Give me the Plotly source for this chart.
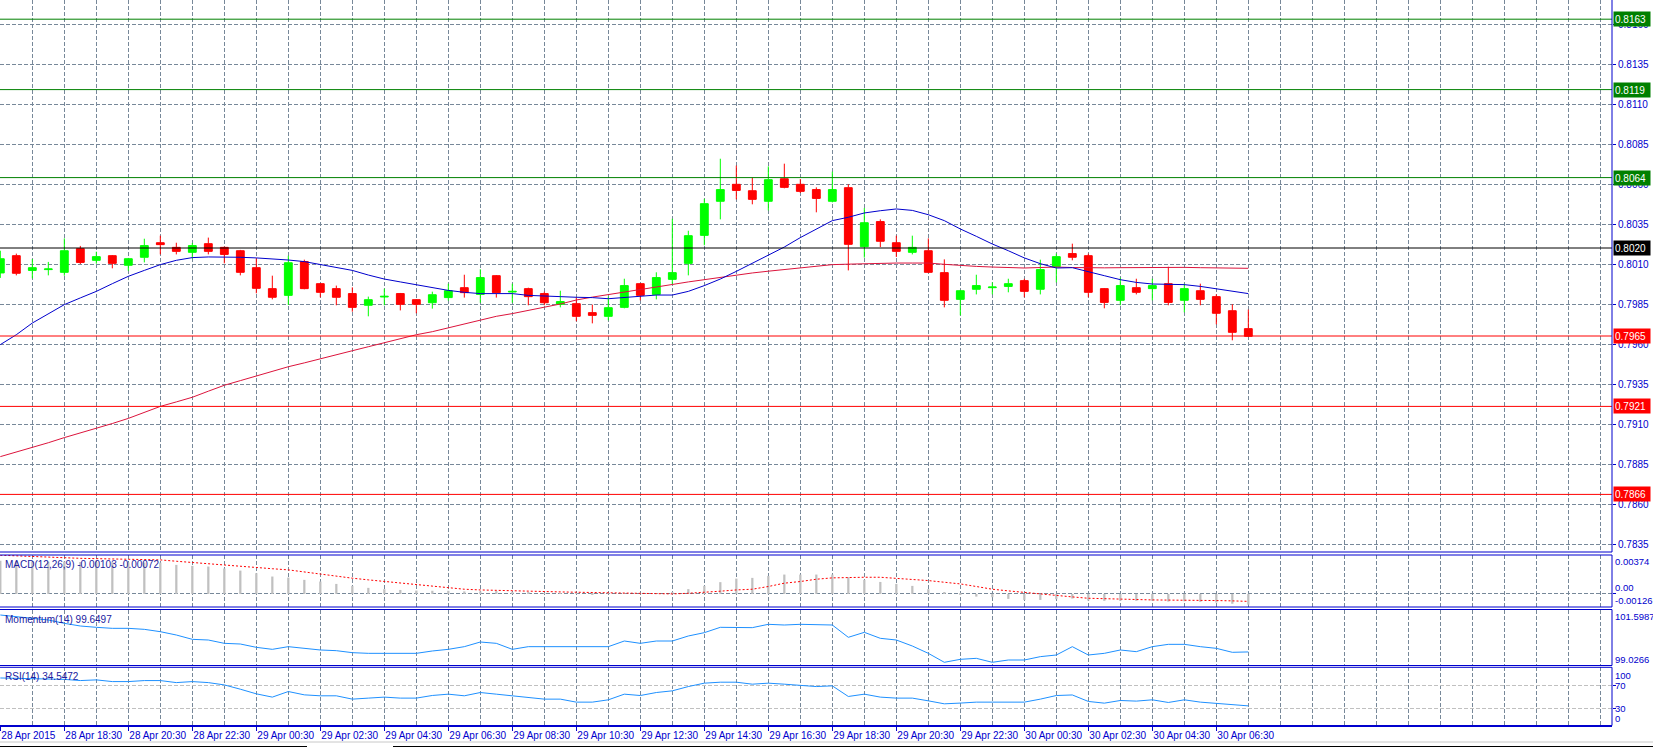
import plotly.graph_objects as go

# ---------------- data ----------------
opens = [0.80044, 0.80152, 0.80060, 0.80065, 0.80048, 0.80196, 0.80123, 0.80152, 0.80092, 0.80142,
         0.80233, 0.80204, 0.80173, 0.80227, 0.80204, 0.80183, 0.80077, 0.79946, 0.79904, 0.80115,
         0.79977, 0.79946, 0.79915, 0.79842, 0.79894, 0.79915, 0.79877, 0.79858, 0.79890, 0.79952,
         0.79910, 0.80027, 0.79925, 0.79946, 0.79915, 0.79848, 0.79852, 0.79796, 0.79773, 0.79829,
         0.79977, 0.79910, 0.80004, 0.80104, 0.80279, 0.80492, 0.80598, 0.80558, 0.80492, 0.80633,
         0.80598, 0.80565, 0.80492, 0.80577, 0.80208, 0.80365, 0.80233, 0.80173, 0.80183, 0.80046,
         0.79879, 0.79942, 0.79952, 0.79960, 0.79996, 0.79942, 0.80083, 0.80165, 0.80152, 0.79946,
         0.79873, 0.79952, 0.79946, 0.79977, 0.79873, 0.79933, 0.79896, 0.79808, 0.79696]
highs = [0.80183, 0.80165, 0.80131, 0.80113, 0.80260, 0.80213, 0.80177, 0.80156, 0.80138, 0.80258,
         0.80277, 0.80233, 0.80231, 0.80265, 0.80208, 0.80188, 0.80135, 0.80027, 0.80152, 0.80127,
         0.79981, 0.79965, 0.79954, 0.79896, 0.79946, 0.79919, 0.79881, 0.79927, 0.79977, 0.80033,
         0.80067, 0.80031, 0.79977, 0.79952, 0.79927, 0.79933, 0.79890, 0.79846, 0.79896, 0.80008,
         0.79981, 0.80048, 0.80383, 0.80308, 0.80508, 0.80758, 0.80715, 0.80640, 0.80710, 0.80727,
         0.80631, 0.80579, 0.80677, 0.80598, 0.80450, 0.80379, 0.80277, 0.80277, 0.80260, 0.80129,
         0.79938, 0.80033, 0.79985, 0.80008, 0.80008, 0.80127, 0.80165, 0.80227, 0.80165, 0.79950,
         0.80015, 0.80008, 0.80008, 0.80083, 0.79977, 0.79977, 0.79910, 0.79848, 0.79815]
lows = [0.80013, 0.80029, 0.80010, 0.80029, 0.80027, 0.80100, 0.80102, 0.80073, 0.80058, 0.80110,
        0.80160, 0.80160, 0.80135, 0.80160, 0.80104, 0.80029, 0.79917, 0.79879, 0.79844, 0.79942,
        0.79892, 0.79842, 0.79802, 0.79773, 0.79842, 0.79810, 0.79792, 0.79821, 0.79871, 0.79890,
        0.79858, 0.79890, 0.79858, 0.79842, 0.79842, 0.79829, 0.79742, 0.79729, 0.79748, 0.79823,
        0.79873, 0.79879, 0.79973, 0.80029, 0.80217, 0.80379, 0.80504, 0.80473, 0.80435, 0.80573,
        0.80544, 0.80423, 0.80485, 0.80060, 0.80140, 0.80206, 0.80144, 0.80160, 0.80044, 0.79829,
        0.79779, 0.79910, 0.79910, 0.79923, 0.79892, 0.79910, 0.79985, 0.80123, 0.79892, 0.79823,
        0.79842, 0.79910, 0.79873, 0.79842, 0.79798, 0.79842, 0.79723, 0.79623, 0.79644]
closes = [0.80133, 0.80042, 0.80077, 0.80069, 0.80183, 0.80110, 0.80146, 0.80104, 0.80133, 0.80215,
          0.80221, 0.80179, 0.80215, 0.80179, 0.80160, 0.80048, 0.79948, 0.79892, 0.80108, 0.79946,
          0.79923, 0.79892, 0.79829, 0.79877, 0.79898, 0.79848, 0.79848, 0.79908, 0.79933, 0.79921,
          0.80015, 0.79921, 0.79929, 0.79896, 0.79858, 0.79865, 0.79773, 0.79779, 0.79827, 0.79965,
          0.79904, 0.80015, 0.80046, 0.80277, 0.80477, 0.80565, 0.80560, 0.80504, 0.80627, 0.80579,
          0.80554, 0.80510, 0.80565, 0.80223, 0.80358, 0.80242, 0.80179, 0.80204, 0.80048, 0.79873,
          0.79933, 0.79965, 0.79956, 0.79977, 0.79929, 0.80065, 0.80146, 0.80142, 0.79923, 0.79860,
          0.79965, 0.79923, 0.79965, 0.79860, 0.79946, 0.79879, 0.79792, 0.79673, 0.79648]

ma_fast = [0.79596, 0.79658, 0.79731, 0.79790, 0.79846, 0.79888, 0.79929, 0.79977, 0.80023, 0.80060,
           0.80096, 0.80123, 0.80140, 0.80144, 0.80144, 0.80142, 0.80138, 0.80133, 0.80125, 0.80115,
           0.80096, 0.80081, 0.80060, 0.80031, 0.80006, 0.79988, 0.79971, 0.79954, 0.79935, 0.79923,
           0.79915, 0.79915, 0.79915, 0.79904, 0.79898, 0.79896, 0.79892, 0.79890, 0.79883, 0.79890,
           0.79898, 0.79906, 0.79906, 0.79929, 0.79965, 0.80006, 0.80054, 0.80106, 0.80156, 0.80206,
           0.80265, 0.80319, 0.80371, 0.80392, 0.80419, 0.80433, 0.80444, 0.80435, 0.80408, 0.80371,
           0.80319, 0.80273, 0.80225, 0.80183, 0.80138, 0.80102, 0.80075, 0.80077, 0.80054, 0.80027,
           0.80002, 0.79985, 0.79975, 0.79975, 0.79971, 0.79960, 0.79944, 0.79929, 0.79915]
ma_slow = [0.78896, 0.78924, 0.78952, 0.78983, 0.79015, 0.79043, 0.79071, 0.79103, 0.79135, 0.79172,
           0.79210, 0.79238, 0.79267, 0.79305, 0.79342, 0.79371, 0.79400, 0.79429, 0.79458, 0.79482,
           0.79506, 0.79532, 0.79558, 0.79583, 0.79608, 0.79633, 0.79658, 0.79677, 0.79702, 0.79727,
           0.79750, 0.79773, 0.79790, 0.79808, 0.79830, 0.79850, 0.79875, 0.79893, 0.79908, 0.79923,
           0.79940, 0.79956, 0.79972, 0.79988, 0.80003, 0.80017, 0.80031, 0.80044, 0.80055, 0.80065,
           0.80075, 0.80085, 0.80096, 0.80099, 0.80102, 0.80104, 0.80106, 0.80106, 0.80106, 0.80098,
           0.80090, 0.80085, 0.80081, 0.80078, 0.80075, 0.80078, 0.80081, 0.80078, 0.80075, 0.80076,
           0.80077, 0.80078, 0.80079, 0.80079, 0.80079, 0.80077, 0.80075, 0.80074, 0.80073]

macd_main = [0.00318, 0.00315, 0.00312, 0.00310, 0.00310, 0.00307, 0.00305, 0.00305, 0.00303, 0.00302,
             0.00301, 0.00279, 0.00269, 0.00263, 0.00244, 0.00224, 0.00199, 0.00167, 0.00157, 0.00135,
             0.00119, 0.00096, 0.00077, 0.00058, 0.00045, 0.00038, 0.00032, 0.00030, 0.00030, 0.00024,
             0.00024, 0.00027, 0.00016, 0.00013, 0.00006, 0.00006, 0.00003, -0.00003, 0.00001, 0.00002,
             0.00003, 0.00006, 0.00013, 0.00046, 0.00077, 0.00113, 0.00147, 0.00154, 0.00173, 0.00186,
             0.00186, 0.00186, 0.00186, 0.00160, 0.00135, 0.00115, 0.00096, 0.00077, 0.00045, 0.00016,
             -0.00003, -0.00026, -0.00032, -0.00048, -0.00058, -0.00058, -0.00051, -0.00045, -0.00064, -0.00067,
             -0.00067, -0.00067, -0.00067, -0.00074, -0.00071, -0.00077, -0.00083, -0.00095, -0.00103]
macd_signal = [0.00372, 0.00365, 0.00358, 0.00352, 0.00346, 0.00342, 0.00339, 0.00336, 0.00333, 0.00330,
               0.00327, 0.00314, 0.00301, 0.00290, 0.00279, 0.00266, 0.00253, 0.00242, 0.00231, 0.00210,
               0.00189, 0.00170, 0.00151, 0.00135, 0.00119, 0.00103, 0.00087, 0.00074, 0.00061, 0.00045,
               0.00038, 0.00033, 0.00029, 0.00025, 0.00022, 0.00019, 0.00016, 0.00013, 0.00008, 0.00004,
               0.00000, 0.00000, 0.00000, 0.00006, 0.00013, 0.00026, 0.00038, 0.00045, 0.00071, 0.00103,
               0.00119, 0.00141, 0.00154, 0.00160, 0.00160, 0.00160, 0.00151, 0.00141, 0.00128, 0.00112,
               0.00096, 0.00071, 0.00045, 0.00029, 0.00013, 0.00000, -0.00016, -0.00029, -0.00042, -0.00048,
               -0.00051, -0.00054, -0.00058, -0.00058, -0.00058, -0.00061, -0.00064, -0.00067, -0.00072]

momentum = [101.346, 101.270, 101.224, 101.117, 100.964, 100.841, 100.780, 100.734, 100.734, 100.688,
            100.580, 100.427, 100.228, 100.198, 100.045, 100.014, 99.861, 99.769, 99.892, 99.815,
            99.739, 99.708, 99.616, 99.585, 99.585, 99.585, 99.585, 99.693, 99.769, 99.892,
            100.106, 100.045, 99.769, 99.892, 99.892, 99.922, 99.892, 99.892, 99.892, 100.152,
            100.045, 100.152, 100.152, 100.382, 100.535, 100.780, 100.765, 100.765, 100.918, 100.887,
            100.918, 100.887, 100.887, 100.321, 100.550, 100.275, 100.198, 99.922, 99.585, 99.173,
            99.310, 99.356, 99.173, 99.279, 99.279, 99.433, 99.509, 99.892, 99.509, 99.585,
            99.739, 99.662, 99.892, 99.999, 99.999, 99.892, 99.815, 99.632, 99.6497]

rsi = [84.0, 83.5, 83.0, 82.5, 81.5, 79.4, 80.6, 77.6, 77.6, 79.4,
       79.4, 75.8, 77.6, 75.8, 71.7, 64.1, 55.9, 50.1, 60.0, 54.1,
       52.4, 52.4, 46.5, 48.3, 50.1, 48.3, 48.3, 53.0, 55.3, 52.4,
       58.2, 55.3, 52.4, 48.3, 46.5, 46.5, 41.2, 41.2, 45.3, 55.3,
       52.9, 58.2, 61.2, 68.8, 74.8, 76.5, 76.5, 73.0, 74.8, 73.0,
       71.3, 68.8, 70.0, 51.2, 55.3, 50.1, 48.3, 48.3, 43.5, 38.2,
       39.5, 41.2, 41.2, 41.2, 41.2, 46.5, 52.9, 53.9, 42.4, 39.4,
       44.1, 43.0, 45.3, 40.6, 45.3, 41.2, 39.4, 36.5, 34.55]

time_labels = ["28 Apr 2015", "28 Apr 18:30", "28 Apr 20:30", "28 Apr 22:30", "29 Apr 00:30",
               "29 Apr 02:30", "29 Apr 04:30", "29 Apr 06:30", "29 Apr 08:30", "29 Apr 10:30",
               "29 Apr 12:30", "29 Apr 14:30", "29 Apr 16:30", "29 Apr 18:30", "29 Apr 20:30",
               "29 Apr 22:30", "30 Apr 00:30", "30 Apr 02:30", "30 Apr 04:30", "30 Apr 06:30"]
BARS_PER_LABEL = 4

price_ticks = [0.8160, 0.8135, 0.8110, 0.8085, 0.8060, 0.8035, 0.8010,
               0.7985, 0.7960, 0.7935, 0.7910, 0.7885, 0.7860, 0.7835]
levels_green = [0.8163, 0.8119, 0.8064]
levels_black = [0.8020]
levels_red = [0.7965, 0.7921, 0.7866]

macd_title = "MACD(12,26,9) -0.00103 -0.00072"
mom_title = "Momentum(14) 99.6497"
rsi_title = "RSI(14) 34.5472"
macd_scale = [0.00374, 0.0, -0.00126]
mom_scale = [101.5987, 99.0266]
rsi_levels = [100, 70, 30, 0]

# ---------------- layout helpers ----------------
W, H = 1653, 747
PLOT_R = 1612
FONT = "Liberation Sans"
AX_BLUE = "#0000CD"
GRID = "#778899"


def xp(px):
    return px / W


def yp(py):
    return 1 - py / H


idx = list(range(len(opens)))
XR = [-0.02, 100.73]

fig = go.Figure()

fig.add_trace(go.Candlestick(
    x=idx, open=opens, high=highs, low=lows, close=closes,
    increasing=dict(line=dict(color="#00FF00", width=1), fillcolor="#00FF00"),
    decreasing=dict(line=dict(color="#FF0000", width=1), fillcolor="#FF0000"),
    whiskerwidth=0, xaxis="x", yaxis="y", showlegend=False, hoverinfo="skip"))
fig.add_trace(go.Scatter(x=idx, y=ma_slow, mode="lines", line=dict(color="#DC143C", width=1),
                         xaxis="x", yaxis="y", showlegend=False, hoverinfo="skip"))
fig.add_trace(go.Scatter(x=idx, y=ma_fast, mode="lines", line=dict(color="#0000CD", width=1),
                         xaxis="x", yaxis="y", showlegend=False, hoverinfo="skip"))

fig.add_trace(go.Bar(x=idx, y=macd_main, width=0.14, marker=dict(color="#C0C0C0", line=dict(width=0)),
                     xaxis="x2", yaxis="y2", showlegend=False, hoverinfo="skip"))
fig.add_trace(go.Scatter(x=idx, y=macd_signal, mode="lines", line=dict(color="#FF0000", width=1, dash="2px,2px"),
                         xaxis="x2", yaxis="y2", showlegend=False, hoverinfo="skip"))

fig.add_trace(go.Scatter(x=idx, y=momentum, mode="lines", line=dict(color="#1E90FF", width=1),
                         xaxis="x3", yaxis="y3", showlegend=False, hoverinfo="skip"))
fig.add_trace(go.Scatter(x=idx, y=rsi, mode="lines", line=dict(color="#1E90FF", width=1),
                         xaxis="x4", yaxis="y4", showlegend=False, hoverinfo="skip"))

grid_x = dict(range=XR, domain=[0, xp(PLOT_R)], showgrid=True, gridcolor=GRID, griddash="4px,2px",
              gridwidth=1, tickmode="linear", tick0=0, dtick=2, showticklabels=False, ticks="",
              zeroline=False, showline=False, fixedrange=True, automargin=False)

label_pos = [k * BARS_PER_LABEL for k in range(len(time_labels))]

panels = {
    "main": (0, 552),
    "macd": (555, 607),
    "mom": (609.5, 665.5),
    "rsi": (667.3, 725.5),
}

fig.update_layout(
    width=W, height=H, margin=dict(l=0, r=0, t=0, b=0, autoexpand=False),
    paper_bgcolor="white", plot_bgcolor="white",
    font=dict(family=FONT, size=10, color=AX_BLUE),
    showlegend=False,
    xaxis=dict(grid_x, anchor="y", rangeslider=dict(visible=False)),
    xaxis2=dict(grid_x, anchor="y2"),
    xaxis3=dict(grid_x, anchor="y3"),
    xaxis4=dict(range=XR, domain=[0, xp(PLOT_R)], anchor="y4", side="bottom",
                tickmode="array", tickvals=label_pos, ticktext=time_labels, tickangle=0,
                ticks="outside", ticklen=4, tickcolor=AX_BLUE, tickwidth=1,
                ticklabelposition="outside right", automargin=False,
                tickfont=dict(family=FONT, size=10, color=AX_BLUE),
                showgrid=False, zeroline=False, showline=True, linecolor=AX_BLUE, linewidth=1,
                minor=dict(tickmode="linear", tick0=0, dtick=2, showgrid=True, gridcolor=GRID,
                           griddash="4px,2px", gridwidth=1, ticks=""),
                fixedrange=True),
    yaxis=dict(domain=[yp(panels["main"][1]), yp(panels["main"][0])], range=[0.7830, 0.8175],
               side="right", anchor="x", tickmode="array", tickvals=price_ticks,
               ticktext=[f"{v:.4f}" for v in price_ticks], ticks="outside", ticklen=3,
               tickcolor=AX_BLUE, showgrid=True, gridcolor=GRID, griddash="4px,2px",
               zeroline=False, showline=False, automargin=False,
               tickfont=dict(family=FONT, size=10, color=AX_BLUE), fixedrange=True),
    yaxis2=dict(domain=[yp(panels["macd"][1]), yp(panels["macd"][0])], range=[-0.00126, 0.00374],
                side="right", anchor="x2", tickmode="array", tickvals=[0], showticklabels=False,
                ticks="outside", ticklen=3, tickcolor=AX_BLUE, automargin=False,
                showgrid=True, gridcolor=GRID, griddash="4px,2px", zeroline=False, showline=False,
                fixedrange=True),
    yaxis3=dict(domain=[yp(panels["mom"][1]), yp(panels["mom"][0])], range=[99.0266, 101.5987],
                side="right", anchor="x3", showticklabels=False, showgrid=False, zeroline=False,
                showline=False, ticks="", fixedrange=True, automargin=False),
    yaxis4=dict(domain=[yp(panels["rsi"][1]), yp(panels["rsi"][0])], range=[-0.2, 102.9],
                side="right", anchor="x4", tickmode="array", tickvals=[30, 70], showticklabels=False,
                ticks="outside", ticklen=3, tickcolor=AX_BLUE, automargin=False,
                showgrid=True, gridcolor="#C0C0C0", griddash="4px,2px", zeroline=False, showline=False,
                fixedrange=True),
)

shapes = []
# horizontal level lines
for vals, col in ((levels_green, "#008000"), (levels_black, "#000000"), (levels_red, "#FF0000")):
    for v in vals:
        shapes.append(dict(type="line", xref="paper", yref="y", x0=0, x1=xp(PLOT_R), y0=v, y1=v,
                           line=dict(color=col, width=1), layer="above"))
# panel frames
for name, (top, bot) in panels.items():
    t = top if name != "main" else -5
    shapes.append(dict(type="rect", xref="paper", yref="paper", x0=-0.01, x1=xp(PLOT_R),
                       y0=yp(bot), y1=yp(t), line=dict(color=AX_BLUE, width=1),
                       fillcolor="rgba(0,0,0,0)", layer="above"))
# bottom window strip
shapes.append(dict(type="line", xref="paper", yref="paper", x0=0, x1=1, y0=yp(742), y1=yp(742),
                   line=dict(color="#C8C8C8", width=1)))
shapes.append(dict(type="line", xref="paper", yref="paper", x0=0, x1=xp(307), y0=yp(746.5), y1=yp(746.5),
                   line=dict(color="#000000", width=1)))
shapes.append(dict(type="line", xref="paper", yref="paper", x0=xp(393), x1=1, y0=yp(746.5), y1=yp(746.5),
                   line=dict(color="#000000", width=1)))

annotations = []
# price tags on the right axis
for vals, col in ((levels_green, "#008000"), (levels_black, "#000000"), (levels_red, "#FF0000")):
    for v in vals:
        annotations.append(dict(xref="paper", yref="y", x=xp(PLOT_R + 1), y=v, xanchor="left",
                                yanchor="middle", text=f"{v:.4f}", showarrow=False, bgcolor=col,
                                font=dict(family=FONT, size=10, color="white"), width=34, height=12,
                                align="left", borderpad=1))
# indicator titles
title_col = "#2020A0"
for txt, panel in ((macd_title, "macd"), (mom_title, "mom"), (rsi_title, "rsi")):
    annotations.append(dict(xref="paper", yref="paper", x=xp(3), y=yp(panels[panel][0] + 2),
                            xanchor="left", yanchor="top", text=txt, showarrow=False,
                            font=dict(family=FONT, size=10, color=title_col)))
# subwindow scale labels
lab_x = xp(PLOT_R + 2)
sfont = dict(family=FONT, size=9.5, color=AX_BLUE)
annotations.append(dict(xref="paper", yref="y2", x=lab_x, y=macd_scale[0], xanchor="left", yanchor="top",
                        text=f"{macd_scale[0]:.5f}", showarrow=False, font=sfont, borderpad=0))
annotations.append(dict(xref="paper", yref="y2", x=lab_x, y=macd_scale[1], xanchor="left", yanchor="bottom",
                        text="0.00", showarrow=False, font=sfont, borderpad=0))
annotations.append(dict(xref="paper", yref="y2", x=lab_x, y=macd_scale[2], xanchor="left", yanchor="bottom",
                        text=f"{macd_scale[2]:.5f}", showarrow=False, font=sfont, borderpad=0))
annotations.append(dict(xref="paper", yref="y3", x=lab_x, y=mom_scale[0], xanchor="left", yanchor="top",
                        text=f"{mom_scale[0]:.4f}", showarrow=False, font=sfont, borderpad=0))
annotations.append(dict(xref="paper", yref="y3", x=lab_x, y=mom_scale[1], xanchor="left", yanchor="bottom",
                        text=f"{mom_scale[1]:.4f}", showarrow=False, font=sfont, borderpad=0))
for v in rsi_levels:
    ya = "top" if v == 100 else ("bottom" if v == 0 else "middle")
    annotations.append(dict(xref="paper", yref="y4", x=lab_x, y=v, xanchor="left", yanchor=ya,
                            text=str(v), showarrow=False, font=sfont, borderpad=0))

fig.update_layout(shapes=shapes, annotations=annotations)

fig.write_html("out.html")
